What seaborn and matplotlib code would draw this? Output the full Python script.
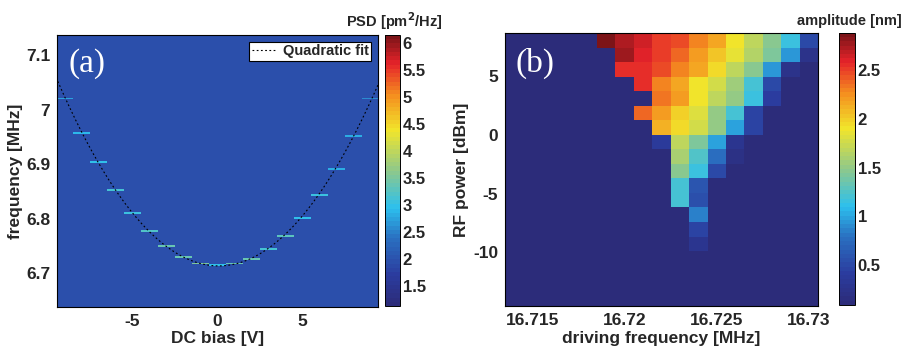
import numpy as np
import matplotlib
matplotlib.use("Agg")
import matplotlib.pyplot as plt
from matplotlib.colors import LinearSegmentedColormap
from matplotlib.ticker import FuncFormatter
import seaborn as sns


# ---------------- panel (a): PSD vs DC bias ----------------
dc_bias = [-9, -8, -7, -6, -5, -4, -3, -2, -1, 0, 1, 2, 3, 4, 5, 6, 7, 8, 9]
peak_freq = [7.0195, 6.9585, 6.904, 6.854, 6.812, 6.778, 6.750, 6.730, 6.7175, 6.7145,
             6.7170, 6.727, 6.745, 6.770, 6.802, 6.843, 6.893, 6.952, 7.0195]
peak_psd = [2.7, 2.9, 2.95, 3.1, 3.05, 3.2, 3.4, 3.4, 3.5, 3.0,
            3.4, 3.4, 3.1, 3.3, 2.95, 3.05, 2.85, 2.85, 2.6]
psd_background = 1.95
psd_range = (1.13, 6.15)
psd_ticks = [1.5, 2, 2.5, 3, 3.5, 4, 4.5, 5, 5.5, 6]

# ---------------- panel (b): amplitude map ----------------
B = 0.09  # floor of the amplitude map
drive_freq = [16.714, 16.715, 16.716, 16.717, 16.718, 16.719, 16.720, 16.721, 16.722,
              16.723, 16.724, 16.725, 16.726, 16.727, 16.728, 16.729, 16.730]
rf_power = [8.04, 6.80, 5.57, 4.33, 3.09, 1.86, 0.62, -0.62, -1.86, -3.09,
            -4.33, -5.57, -6.80, -8.04, -9.28, -10.51, -11.75, -12.99, -14.22]
amplitude = [
    [B, B, B, B, B, 2.85, 2.72, 2.62, 2.50, 2.45, 2.30, 2.15, 1.90, 1.70, 1.45, 1.15, 0.50],
    [B, B, B, B, B, B, 2.75, 2.60, 2.52, 2.40, 2.22, 2.05, 1.85, 1.65, 1.40, 0.95, 0.25],
    [B, B, B, B, B, B, 2.55, 2.55, 2.45, 2.30, 2.15, 1.95, 1.70, 1.45, 0.95, 0.25, B],
    [B, B, B, B, B, B, B, 2.55, 2.30, 2.15, 1.90, 1.75, 1.55, 1.20, 0.50, B, B],
    [B, B, B, B, B, B, B, B, 2.35, 2.20, 1.90, 1.70, 1.50, 1.15, 0.40, B, B],
    [B, B, B, B, B, B, B, 2.40, 2.20, 2.00, 1.80, 1.50, 1.20, 0.45, B, B, B],
    [B, B, B, B, B, B, B, B, 2.10, 1.95, 1.75, 1.50, 1.00, 0.45, B, B, B],
    [B, B, B, B, B, B, B, B, 0.38, 1.68, 1.40, 0.98, 0.30, B, B, B, B],
    [B, B, B, B, B, B, B, B, B, 1.58, 1.25, 0.78, 0.18, B, B, B, B],
    [B, B, B, B, B, B, B, B, B, 1.45, 1.15, 0.50, B, B, B, B, B],
    [B, B, B, B, B, B, B, B, B, 1.20, 0.60, B, B, B, B, B, B],
    [B, B, B, B, B, B, B, B, B, 1.20, 0.55, B, B, B, B, B, B],
    [B, B, B, B, B, B, B, B, B, B, 0.85, B, B, B, B, B, B],
    [B, B, B, B, B, B, B, B, B, B, 0.45, B, B, B, B, B, B],
    [B, B, B, B, B, B, B, B, B, B, 0.28, B, B, B, B, B, B],
    [B, B, B, B, B, B, B, B, B, B, B, B, B, B, B, B, B],
    [B, B, B, B, B, B, B, B, B, B, B, B, B, B, B, B, B],
    [B, B, B, B, B, B, B, B, B, B, B, B, B, B, B, B, B],
    [B, B, B, B, B, B, B, B, B, B, B, B, B, B, B, B, B],
]
amp_range = (0.09, 2.88)
amp_ticks = [0.5, 1, 1.5, 2, 2.5]


def edges(centers):
    c = np.asarray(centers, dtype=float)
    mid = (c[1:] + c[:-1]) / 2
    return np.concatenate([[c[0] - (mid[0] - c[0])], mid, [c[-1] + (c[-1] - mid[-1])]])


# muted (printed) jet
jet_muted = LinearSegmentedColormap.from_list("jet_muted", [
    (0.00, "#2c2c7a"), (0.11, "#2b3c9f"), (0.25, "#2a72c2"), (0.36, "#2cc0ee"),
    (0.50, "#8fc98a"), (0.65, "#f1e52b"), (0.78, "#f5901f"), (0.90, "#e5232a"),
    (1.00, "#7c1418")], N=64)

sns.set_style("ticks")
plt.rcParams["font.family"] = ["Liberation Sans", "DejaVu Sans"]
plt.rcParams["font.weight"] = "bold"
plt.rcParams["axes.labelweight"] = "bold"
plt.rcParams["axes.unicode_minus"] = False
plt.rcParams["axes.edgecolor"] = "black"
plt.rcParams["axes.linewidth"] = 0.8

fmt = FuncFormatter(lambda v, p: "%g" % v)

fig = plt.figure(figsize=(9.07, 3.48), dpi=100)
ax_a = fig.add_axes([0.0628, 0.1178, 0.354, 0.7816])
cb_a = fig.add_axes([0.4245, 0.1207, 0.0165, 0.7787])
ax_b = fig.add_axes([0.5568, 0.1207, 0.3451, 0.7845])
cb_b = fig.add_axes([0.925, 0.1236, 0.0176, 0.7816])

# ---- (a) ----
f_lo, f_hi = 6.638, 7.137
f_edges = np.arange(f_lo, f_hi + 0.003, 0.003)
v_edges = edges(dc_bias)
psd = np.full((len(f_edges) - 1, len(dc_bias)), psd_background)
for j, (f, p) in enumerate(zip(peak_freq, peak_psd)):
    i = np.searchsorted(f_edges, f) - 1
    psd[i, j] = p
m_a = ax_a.pcolormesh(v_edges, f_edges, psd, cmap=jet_muted,
                      vmin=psd_range[0], vmax=psd_range[1], shading="flat")

coef = np.polyfit(dc_bias, peak_freq, 2)
v_fit = np.linspace(-9.5, 9.5, 300)
sns.lineplot(x=v_fit, y=np.polyval(coef, v_fit), ax=ax_a, color="black",
             lw=0.8, linestyle=(0, (1.6, 2.2)), label="Quadratic fit")
ax_a.set_xlim(-9.45, 9.45)
ax_a.set_ylim(f_lo, f_hi)
ax_a.set_xticks([-5, 0, 5])
ax_a.set_yticks([6.7, 6.8, 6.9, 7.0, 7.1])
ax_a.xaxis.set_major_formatter(fmt)
ax_a.yaxis.set_major_formatter(fmt)
ax_a.set_xlabel("DC bias [V]", fontsize=12.5, labelpad=1.5)
ax_a.set_ylabel("frequency [MHz]", fontsize=12.5, labelpad=2)
leg = ax_a.legend(loc="upper right", fancybox=False, framealpha=1, edgecolor="black",
                  borderpad=0.2, handlelength=1.6, handletextpad=0.5,
                  borderaxespad=0.45, prop={"weight": "bold", "size": 10.5})
leg.get_frame().set_linewidth(0.8)
ax_a.text(0.035, 0.895, "(a)", transform=ax_a.transAxes, color="white",
          fontsize=24, family=["Liberation Serif", "DejaVu Serif"],
          fontweight="normal", ha="left", va="center")

cbar_a = fig.colorbar(m_a, cax=cb_a, ticks=psd_ticks, format=fmt)
cb_a.set_title("PSD [pm$^\\mathbf{2}$/Hz]", fontsize=10.5, fontweight="bold",
               loc="right", x=3.85, pad=6)

# ---- (b) ----
m_b = ax_b.pcolormesh(edges(drive_freq), edges(rf_power), np.array(amplitude),
                      cmap=jet_muted, vmin=amp_range[0], vmax=amp_range[1], shading="flat")
ax_b.set_xlim(16.7135, 16.7305)
ax_b.set_ylim(-14.57, 8.66)
ax_b.set_xticks([16.715, 16.72, 16.725, 16.73])
ax_b.set_yticks([-10, -5, 0, 5])
ax_b.xaxis.set_major_formatter(fmt)
ax_b.yaxis.set_major_formatter(fmt)
ax_b.set_xlabel("driving frequency [MHz]", fontsize=12.5, labelpad=2)
ax_b.set_ylabel("RF power [dBm]", fontsize=12.5, labelpad=3)
ax_b.text(0.035, 0.89, "(b)", transform=ax_b.transAxes, color="white",
          fontsize=24, family=["Liberation Serif", "DejaVu Serif"],
          fontweight="normal", ha="left", va="center")

cbar_b = fig.colorbar(m_b, cax=cb_b, ticks=amp_ticks, format=fmt)
cb_b.set_title("amplitude [nm]", fontsize=10.5, fontweight="bold",
               loc="right", x=3.95, pad=6)

for ax in (ax_a, ax_b):
    ax.tick_params(direction="in", length=3.5, width=0.7, top=True, right=True,
                   labelsize=12.5, pad=5, color="#333333")
    for s in ax.spines.values():
        s.set_linewidth(0.8)
for cb, cbar in ((cb_a, cbar_a), (cb_b, cbar_b)):
    cb.tick_params(direction="in", length=3, width=0.7, labelsize=12, pad=2)
    cbar.outline.set_linewidth(0.7)

fig.savefig("out.png", dpi=100)
